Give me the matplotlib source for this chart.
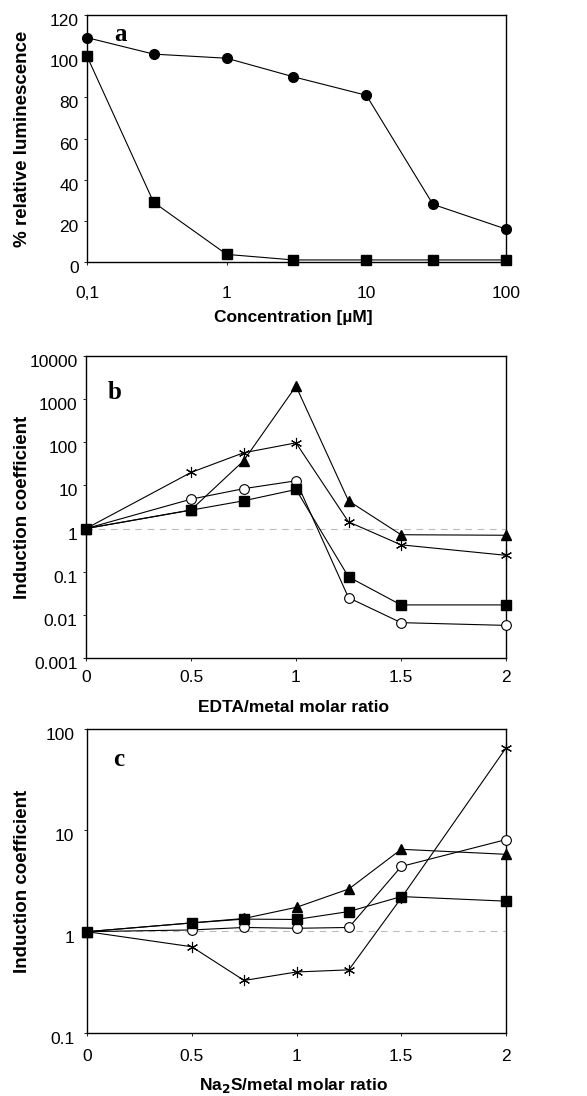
import matplotlib.pyplot as plt
from matplotlib.ticker import FixedLocator, NullLocator
from matplotlib.transforms import ScaledTranslation

plt.rcParams['font.family'] = ['Liberation Sans', 'DejaVu Sans']

# panel a: concentration (uM) vs % relative luminescence
conc = [0.1, 0.3, 1, 3, 10, 30, 100]
a_circle = [109, 101, 99, 90, 81, 28, 16]
a_square = [100, 29, 3.7, 1, 1, 1, 1]
a_xticks = [0.1, 1, 10, 100]
a_xlabels = ["0,1", "1", "10", "100"]

# panel b: EDTA/metal molar ratio vs induction coefficient
ratio = [0, 0.5, 0.75, 1, 1.25, 1.5, 2]
b_triangle = [1, 2.7, 37, 2000, 4.4, 0.72, 0.7]
b_star = [1, 20, 57, 97, 1.43, 0.42, 0.24]
b_circle = [1, 4.8, 8.4, 12.8, 0.025, 0.0066, 0.0057]
b_square = [1, 2.67, 4.4, 8.05, 0.076, 0.017, 0.017]
b_yticks = [0.001, 0.01, 0.1, 1, 10, 100, 1000, 10000]
b_ylabels = ["0.001", "0.01", "0.1", "1", "10", "100", "1000", "10000"]

# panel c: Na2S/metal molar ratio vs induction coefficient
c_square = [1, 1.22, 1.33, 1.32, 1.58, 2.22, 2.0]
c_triangle = [1, 1.22, 1.35, 1.74, 2.64, 6.5, 5.8]
c_circle = [1, 1.04, 1.1, 1.08, 1.1, 4.4, 8.1]
c_star = [1, 0.71, 0.33, 0.40, 0.42, 2.15, 65]
c_yticks = [0.1, 1, 10, 100]
c_ylabels = ["0.1", "1", "10", "100"]

ratio_ticks = [0, 0.5, 1, 1.5, 2]
ratio_labels = ["0", "0.5", "1", "1.5", "2"]

W, H = 587, 1096
fig = plt.figure(figsize=(W / 100, H / 100), dpi=100)


def make_ax(left, right, top, bottom):
    return fig.add_axes([left / W, 1 - bottom / H, (right - left) / W, (bottom - top) / H])


ax_a = make_ax(87, 506, 15, 262)
ax_b = make_ax(86, 506, 356, 658)
ax_c = make_ax(87, 506, 729, 1033)

lw = 0.8
star = (6, 2, 0)
tick_fs = 12.5
xlab_fs = 12.5
ylab_fs = 13.5

# ---- a ----
ax_a.set_xscale('log')
ax_a.plot(conc, a_circle, color='black', lw=lw, marker='o', ms=7, clip_on=False, zorder=3)
ax_a.plot(conc, a_square, color='black', lw=lw, marker='s', ms=7, clip_on=False, zorder=3)
ax_a.set_xlim(0.1, 100)
ax_a.set_ylim(0, 120)
ax_a.set_yticks([0, 20, 40, 60, 80, 100, 120])
ax_a.xaxis.set_major_locator(FixedLocator(a_xticks))
ax_a.xaxis.set_minor_locator(NullLocator())
ax_a.set_xticklabels(a_xlabels)
ax_a.set_xlabel('Concentration [µM]', fontsize=xlab_fs, fontweight='bold')
ax_a.set_ylabel('% relative luminescence', fontsize=ylab_fs, fontweight='bold')
ax_a.text(0.08, 0.92, 'a', transform=ax_a.transAxes, fontsize=18, fontweight='bold',
          family='Liberation Serif', va='center', ha='center')

# ---- b ----
ax_b.set_yscale('log')
ax_b.axhline(1, color='#bbbbbb', lw=0.8, ls=(0, (6, 5)), zorder=1)
ax_b.plot(ratio, b_triangle, color='black', lw=lw, marker='^', ms=7.5, clip_on=False, zorder=3)
ax_b.plot(ratio, b_star, color='black', lw=lw, marker=star, ms=8, mew=0.8, clip_on=False, zorder=3)
ax_b.plot(ratio, b_circle, color='black', lw=lw, marker='o', ms=7, mfc='white', mew=0.8,
          clip_on=False, zorder=3)
ax_b.plot(ratio, b_square, color='black', lw=lw, marker='s', ms=7, clip_on=False, zorder=3)
ax_b.set_xlim(0, 2)
ax_b.set_ylim(0.001, 10000)
ax_b.yaxis.set_major_locator(FixedLocator(b_yticks))
ax_b.yaxis.set_minor_locator(NullLocator())
ax_b.set_yticklabels(b_ylabels)
ax_b.set_xticks(ratio_ticks)
ax_b.set_xticklabels(ratio_labels)
ax_b.set_xlabel('EDTA/metal molar ratio', fontsize=xlab_fs, fontweight='bold')
ax_b.set_ylabel('Induction coefficient', fontsize=ylab_fs, fontweight='bold')
ax_b.text(0.067, 0.88, 'b', transform=ax_b.transAxes, fontsize=18, fontweight='bold',
          family='Liberation Serif', va='center', ha='center')

# ---- c ----
ax_c.set_yscale('log')
ax_c.axhline(1.02, color='#bbbbbb', lw=0.8, ls=(0, (6, 5)), zorder=1)
ax_c.plot(ratio, c_star, color='black', lw=lw, marker=star, ms=8, mew=0.8, clip_on=False, zorder=3)
ax_c.plot(ratio, c_triangle, color='black', lw=lw, marker='^', ms=7.5, clip_on=False, zorder=3)
ax_c.plot(ratio, c_circle, color='black', lw=lw, marker='o', ms=7, mfc='white', mew=0.8,
          clip_on=False, zorder=3)
ax_c.plot(ratio, c_square, color='black', lw=lw, marker='s', ms=7, clip_on=False, zorder=3)
ax_c.set_xlim(0, 2)
ax_c.set_ylim(0.1, 100)
ax_c.yaxis.set_major_locator(FixedLocator(c_yticks))
ax_c.yaxis.set_minor_locator(NullLocator())
ax_c.set_yticklabels(c_ylabels)
ax_c.set_xticks(ratio_ticks)
ax_c.set_xticklabels(ratio_labels)
ax_c.set_xlabel('Na$_\\mathbf{2}$S/metal molar ratio', fontsize=xlab_fs, fontweight='bold')
ax_c.set_ylabel('Induction coefficient', fontsize=ylab_fs, fontweight='bold')
ax_c.text(0.076, 0.90, 'c', transform=ax_c.transAxes, fontsize=18, fontweight='bold',
          family='Liberation Serif', va='center', ha='center')

# label positions in figure pixels (top of x label, right edge of y label)
fig_px = fig.transFigure
for ax, xl_top, xpad, ypad in ((ax_a, 310, 15, 4), (ax_b, 700, 7, 4), (ax_c, 1076, 9.5, 7)):
    ax.tick_params(length=2, width=0.6, labelsize=tick_fs)
    ax.tick_params(axis='x', pad=xpad)
    ax.tick_params(axis='y', pad=ypad)
    for sp in ax.spines.values():
        sp.set_linewidth(1.0)
    ax.xaxis.set_label_coords(0.5, 1 - xl_top / H, transform=fig_px)
    bb = ax.get_position()
    ax.yaxis.set_label_coords(31 / W, (bb.y0 + bb.y1) / 2, transform=fig_px)
    # tick labels in the scan sit a few pixels below their ticks
    for t in ax.yaxis.get_major_ticks():
        t.label1.set_transform(t.label1.get_transform()
                               + ScaledTranslation(0, -5 / 100, fig.dpi_scale_trans))

fig.savefig('out.png', dpi=100)
